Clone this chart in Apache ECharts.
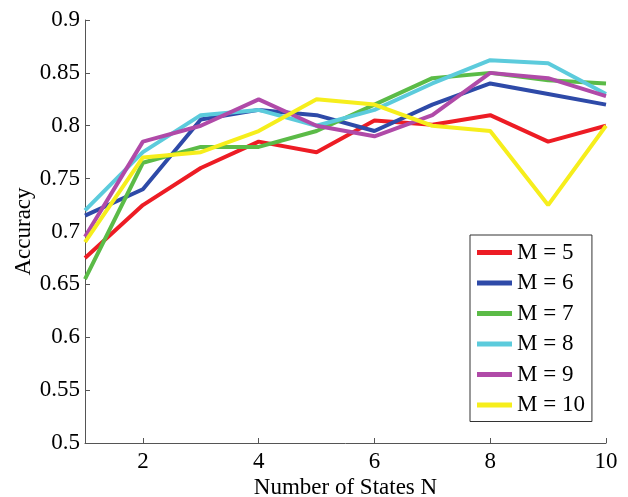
<!DOCTYPE html>
<html>
<head>
<meta charset="utf-8">
<script src="https://cdn.jsdelivr.net/npm/echarts@6/dist/echarts.min.js"></script>
<style>
  html, body { margin: 0; padding: 0; background: #fff; }
  #chart { width: 628px; height: 497px; }
</style>
</head>
<body>
<div id="chart"></div>
<script>
// 数据
const statesN = ["1", "2", "3", "4", "5", "6", "7", "8", "9", "10"];
const seriesNames = ["M = 5", "M = 6", "M = 7", "M = 8", "M = 9", "M = 10"];
const m5 = [0.675, 0.725, 0.76, 0.785, 0.775, 0.805, 0.801, 0.81, 0.785, 0.8];
const m6 = [0.715, 0.74, 0.806, 0.815, 0.81, 0.795, 0.82, 0.84, 0.83, 0.82];
const m7 = [0.655, 0.765, 0.78, 0.78, 0.795, 0.82, 0.845, 0.85, 0.843, 0.84];
const m8 = [0.72, 0.775, 0.81, 0.815, 0.8, 0.815, 0.84, 0.862, 0.859, 0.83];
const m9 = [0.695, 0.785, 0.8, 0.825, 0.8, 0.79, 0.81, 0.85, 0.845, 0.828];
const m10 = [0.69, 0.77, 0.775, 0.795, 0.825, 0.82, 0.8, 0.795, 0.725, 0.8];
const colors = ["#ed1c24", "#2e4aa8", "#5bbb47", "#5ccbdc", "#b04aa8", "#f6ee1c"];

const font = "Liberation Serif";
const allData = [m5, m6, m7, m8, m9, m10];

const chart = echarts.init(document.getElementById("chart"));
const option = {
  animation: false,
  color: colors,
  textStyle: { fontFamily: font },
  grid: { left: 85, right: 22, top: 20, bottom: 54, outerBoundsMode: "none" },
  legend: {
    orient: "vertical",
    left: 470,
    top: 235,
    padding: [6, 7, 5, 7],
    borderColor: "#333",
    borderWidth: 1,
    itemWidth: 35,
    itemHeight: 5,
    itemGap: 7.5,
    icon: "rect",
    textStyle: { fontFamily: font, fontSize: 23, color: "#000", lineHeight: 23 },
    data: seriesNames
  },
  xAxis: {
    type: "category",
    data: statesN,
    boundaryGap: false,
    name: "Number of States N",
    nameLocation: "middle",
    nameGap: 33,
    nameMoveOverlap: false,
    nameTextStyle: { fontFamily: font, fontSize: 23, color: "#000" },
    axisLine: { lineStyle: { color: "#555", width: 1 } },
    axisTick: {
      inside: true,
      length: 5,
      interval: (i, v) => Number(v) % 2 === 0,
      lineStyle: { color: "#555" }
    },
    axisLabel: {
      interval: (i, v) => Number(v) % 2 === 0,
      fontFamily: font,
      fontSize: 23,
      color: "#000",
      margin: 7
    },
    splitLine: { show: false }
  },
  yAxis: {
    type: "value",
    min: 0.5,
    max: 0.9,
    interval: 0.05,
    name: "Accuracy",
    nameLocation: "middle",
    nameGap: 50,
    nameMoveOverlap: false,
    nameTextStyle: { fontFamily: font, fontSize: 23, color: "#000" },
    axisLine: { show: true, lineStyle: { color: "#555", width: 1 } },
    axisTick: { show: true, inside: true, length: 5, lineStyle: { color: "#555" } },
    axisLabel: {
      fontFamily: font,
      fontSize: 23,
      color: "#000",
      margin: 5,
      formatter: (v) => String(Math.round(v * 100) / 100)
    },
    splitLine: { show: false }
  },
  series: seriesNames.map((name, i) => ({
    name: name,
    type: "line",
    data: allData[i],
    symbol: "none",
    lineStyle: { width: 4 }
  }))
};
chart.setOption(option);
</script>
</body>
</html>
